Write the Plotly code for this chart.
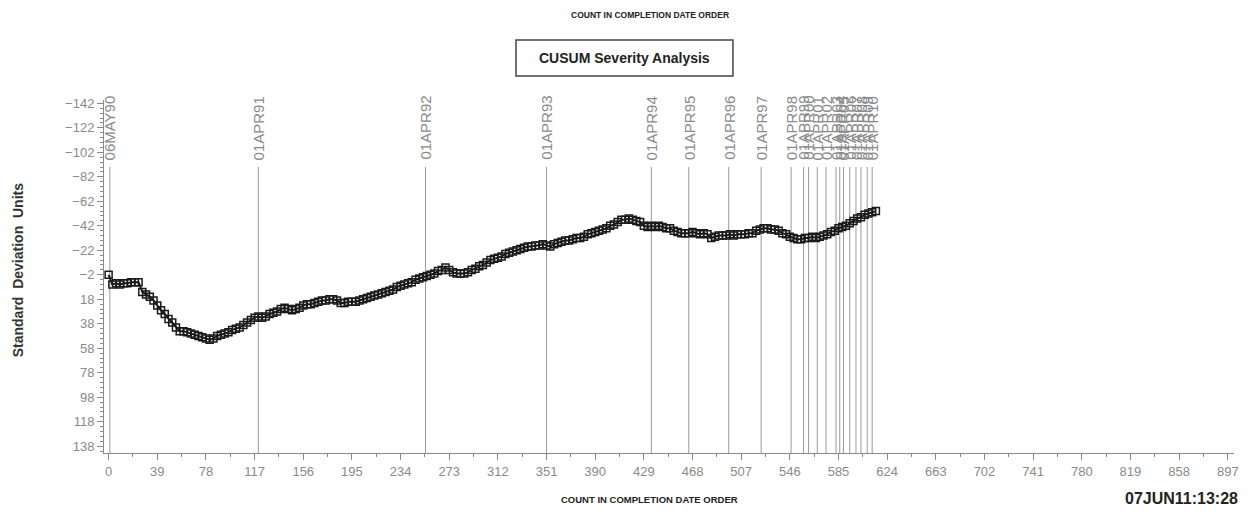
import plotly.graph_objects as go

# CUSUM values, one every 3 counts
cusum_step = 3
cusum_values = [
    -2, 6, 5, 6, 5, 5, 4, 4, 4, 12,
    14, 16, 19, 23, 27, 30, 34, 37, 41, 44,
    44, 45, 46, 47, 48, 49, 50, 51, 50, 48,
    47, 46, 45, 43, 42, 41, 39, 37, 35, 33,
    32, 33, 32, 30, 29, 28, 26, 25, 26, 27,
    26, 25, 23, 22, 22, 21, 20, 19, 19, 18,
    18, 19, 21, 21, 20, 20, 20, 19, 18, 17,
    16, 15, 14, 13, 12, 11, 10, 8, 7, 6,
    5, 4, 2, 1, 0, -1, -2, -3, -5, -6,
    -8, -6, -4, -3, -3, -3, -4, -6, -7, -9,
    -10, -12, -14, -15, -16, -17, -19, -20, -21, -22,
    -23, -24, -25, -25, -26, -26, -27, -26, -25, -27,
    -28, -29, -30, -30, -31, -32, -32, -33, -35, -36,
    -37, -38, -39, -40, -42, -43, -45, -47, -47, -48,
    -47, -46, -45, -42, -41, -42, -41, -42, -41, -40,
    -40, -38, -37, -36, -36, -36, -37, -36, -35, -36,
    -35, -32, -33, -34, -34, -34, -35, -34, -35, -35,
    -35, -36, -36, -38, -39, -40, -40, -39, -39, -38,
    -36, -35, -33, -32, -31, -31, -32, -32, -33, -32,
    -33, -34, -35, -37, -38, -40, -41, -42, -44, -46,
    -48, -49, -51, -52, -53, -54,
]
cusum_counts = [i * cusum_step for i in range(len(cusum_values))]

# Reference date lines (count positions)
ref_labels = ["06MAY90", "01APR91", "01APR92", "01APR93", "01APR94", "01APR95",
              "01APR96", "01APR97", "01APR98", "01APR99", "01APR00", "01APR01",
              "01APR02", "01APR03", "01APR04", "01APR05", "01APR06", "01APR07",
              "01APR08", "01APR09", "01APR10"]
ref_counts = [1, 120, 254, 351, 435, 465, 497, 523, 547, 557, 561, 568,
              575, 583, 586, 589, 594, 599, 603, 608, 612]
ref_line_top = -90

# Axes
x_ticks = list(range(0, 898, 39))
y_ticks = list(range(-142, 139, 20))
x_range = [-3.7, 902]
y_range = [143.5, -144.7]

sans = "Liberation Sans, Arial, sans-serif"

fig = go.Figure()

# reference lines
lx, ly = [], []
for c in ref_counts:
    lx += [c, c, None]
    ly += [ref_line_top, y_range[0], None]
fig.add_trace(go.Scatter(x=lx, y=ly, mode="lines",
                         line=dict(color="#9a9a9a", width=1),
                         hoverinfo="skip", showlegend=False))

fig.add_trace(go.Scatter(
    x=cusum_counts, y=cusum_values, mode="lines+markers",
    line=dict(color="#1a1a1a", width=2),
    marker=dict(symbol="square-open", size=7, color="#1a1a1a",
                line=dict(width=1.5, color="#1a1a1a")),
    showlegend=False))

for lab, c in zip(ref_labels, ref_counts):
    fig.add_annotation(x=c, y=ref_line_top - 4, xref="x", yref="y",
                       text=lab, textangle=-90, showarrow=False,
                       xanchor="center", yanchor="bottom",
                       font=dict(family=sans, size=15, color="#8a8a8a"))

fig.update_xaxes(range=x_range, tickvals=x_ticks, showgrid=False, zeroline=False,
                 automargin=False,
                 showline=True, linecolor="#8a8a8a", linewidth=1,
                 ticks="outside", ticklen=6, tickcolor="#8a8a8a",
                 minor=dict(dtick=19.5, tick0=0, ticklen=3, tickcolor="#8a8a8a", ticks="outside"),
                 tickfont=dict(family=sans, size=13, color="#8a8a8a"))
fig.update_yaxes(range=y_range, tickvals=y_ticks, showgrid=False, zeroline=False,
                 automargin=False,
                 showline=True, linecolor="#8a8a8a", linewidth=1,
                 ticks="outside", ticklen=6, tickcolor="#8a8a8a",
                 minor=dict(dtick=4, tick0=-142, ticklen=3, tickcolor="#8a8a8a", ticks="outside"),
                 tickfont=dict(family=sans, size=13, color="#8a8a8a"))

# y-axis title
fig.add_annotation(xref="paper", yref="paper", x=-0.076, y=0.518,
                   text="<b>Standard  Deviation  Units</b>", textangle=-90,
                   showarrow=False, xanchor="center", yanchor="middle",
                   font=dict(family=sans, size=14, color="#333333"))

# title box
fig.add_shape(type="rect", xref="paper", yref="paper",
              x0=0.3646, x1=0.5566, y0=1.068, y1=1.170,
              line=dict(color="#444444", width=1.5), fillcolor="white")
fig.add_annotation(xref="paper", yref="paper", x=0.4606, y=1.119,
                   text="<b>CUSUM Severity Analysis</b>", showarrow=False,
                   xanchor="center", yanchor="middle",
                   font=dict(family=sans, size=14, color="#222222"))
fig.add_annotation(xref="paper", yref="paper", x=0.483, y=1.242,
                   text="<b>COUNT IN COMPLETION DATE ORDER</b>", showarrow=False,
                   xanchor="center", yanchor="middle",
                   font=dict(family=sans, size=8.5, color="#222222"))
fig.add_annotation(xref="paper", yref="paper", x=0.483, y=-0.133,
                   text="<b>COUNT IN COMPLETION DATE ORDER</b>", showarrow=False,
                   xanchor="center", yanchor="middle",
                   font=dict(family=sans, size=9.5, color="#222222"))
fig.add_annotation(xref="paper", yref="paper", x=1.005, y=-0.128,
                   text="<b>07JUN11:13:28</b>", showarrow=False,
                   xanchor="right", yanchor="middle",
                   font=dict(family=sans, size=16, color="#222222"))

# the page body adds an 8px offset; size the figure to fill the rest
fig.update_layout(width=1242, height=506,
                  margin=dict(l=96, r=16, t=92, b=61),
                  plot_bgcolor="white", paper_bgcolor="white")

fig.write_html("out.html")
